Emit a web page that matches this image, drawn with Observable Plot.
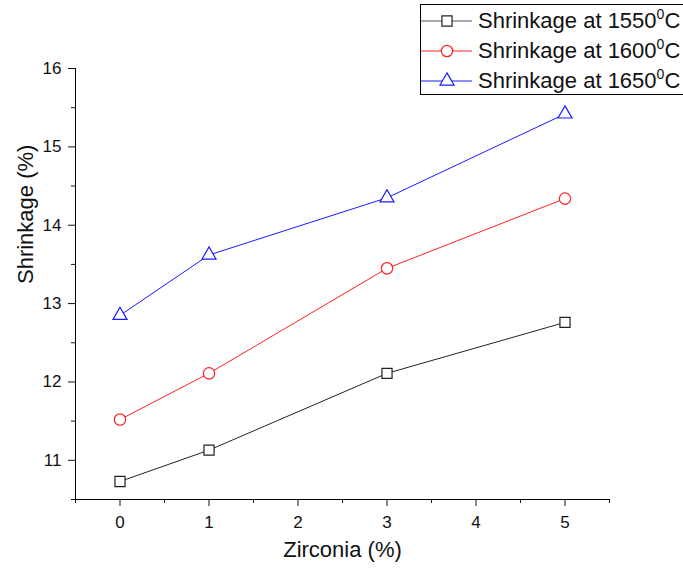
<!DOCTYPE html>
<html>
<head>
<meta charset="utf-8">
<script src="https://cdn.jsdelivr.net/npm/d3@7"></script>
<script src="https://cdn.jsdelivr.net/npm/@observablehq/plot@0.6"></script>
<style>
  html, body { margin: 0; padding: 0; background: #fff; overflow: hidden; }
  #wrap { position: relative; width: 683px; height: 571px; font-family: "Liberation Sans", Arial, sans-serif; }
  #legend { position: absolute; left: 420px; top: 4px; width: 300px; height: 91px; border: 1px solid #000; background: #fff; box-sizing: border-box; }
  .row { position: absolute; left: 0; height: 30px; display: flex; align-items: center; font-size: 22px; color: #111; white-space: nowrap; }
  .row svg { display: block; margin-right: 6px; }
  sup { font-size: 14px; vertical-align: 9px; line-height: 0; }
</style>
</head>
<body>
<div id="wrap"><div id="legend"></div></div>
<script>
const zirconia = [0, 1, 3, 5];
const s1550 = [10.73, 11.13, 12.11, 12.76];
const s1600 = [11.52, 12.11, 13.45, 14.34];
const s1650 = [12.85, 13.62, 14.35, 15.42];
const seriesNames = ["1550", "1600", "1650"];
const seriesColors = ["#222222", "#ff2020", "#1a1aff"];
const seriesSymbols = ["square", "circle", "triangle"];
const xMajor = [0, 1, 2, 3, 4, 5];
const xMinor = [-0.5, 0.5, 1.5, 2.5, 3.5, 4.5, 5.5];
const yMajor = [11, 12, 13, 14, 15, 16];
const yMinor = [10.5, 11.5, 12.5, 13.5, 14.5, 15.5];

const allValues = [s1550, s1600, s1650];
const data = [];
allValues.forEach((vals, i) => vals.forEach((v, j) => data.push({x: zirconia[j], y: v, s: seriesNames[i]})));

const marks = [
  Plot.ruleY([10.5], {stroke: "#000"}),
  Plot.ruleX([-0.5], {stroke: "#000"}),
  Plot.axisX({ticks: xMajor, tickSize: 7, tickPadding: 9, fontSize: 17, label: null, tickFormat: d => String(d)}),
  Plot.axisX({ticks: xMinor, tickSize: 4, text: null, label: null}),
  Plot.axisY({ticks: yMajor, tickSize: 7, tickPadding: 7, fontSize: 17, label: null, tickFormat: d => String(d)}),
  Plot.axisY({ticks: yMinor, tickSize: 4, text: null, label: null}),
  Plot.text(["Zirconia (%)"], {text: d => d, frameAnchor: "bottom", dy: 57, fontSize: 22, fill: "#111"}),
  Plot.text(["Shrinkage (%)"], {text: d => d, frameAnchor: "left", rotate: -90, dx: -50, fontSize: 22, fill: "#111"})
];
seriesNames.forEach((name, i) => {
  const d = data.filter(r => r.s === name);
  marks.push(Plot.line(d, {x: "x", y: "y", stroke: seriesColors[i], strokeWidth: 1}));
  marks.push(Plot.dot(d, {x: "x", y: "y", stroke: seriesColors[i], fill: "white", strokeWidth: 1.2,
    symbol: seriesSymbols[i], r: seriesSymbols[i] === "triangle" ? 5.2 : 5.7}));
});

const chart = Plot.plot({
  width: 683,
  height: 571,
  marginLeft: 75,
  marginRight: 74,
  marginTop: 68,
  marginBottom: 72,
  style: {fontFamily: "'Liberation Sans', Arial, sans-serif", fontSize: "17px", color: "#111", background: "white"},
  x: {domain: [-0.5, 5.5]},
  y: {domain: [10.5, 16]},
  marks
});
chart.style.position = "absolute";
chart.style.left = "0";
chart.style.top = "0";
const wrap = document.getElementById("wrap");
wrap.insertBefore(chart, wrap.firstChild);

// Legend
const legend = document.getElementById("legend");
seriesNames.forEach((name, i) => {
  const row = document.createElement("div");
  row.className = "row";
  row.style.top = (1 + i * 30) + "px";
  const sw = d3.create("svg").attr("width", 51).attr("height", 30);
  sw.append("line").attr("x1", 0).attr("x2", 51).attr("y1", 15).attr("y2", 15).attr("stroke", i === 0 ? "#555" : seriesColors[i]).attr("stroke-width", 1);
  const sym = {square: d3.symbolSquare, circle: d3.symbolCircle, triangle: d3.symbolTriangle}[seriesSymbols[i]];
  const rr = seriesSymbols[i] === "triangle" ? 5.2 : 5.7;
  sw.append("path").attr("d", d3.symbol(sym, Math.PI * rr * rr)()).attr("transform", "translate(26,15)")
    .attr("fill", "white").attr("stroke", seriesColors[i]).attr("stroke-width", 1.2);
  row.appendChild(sw.node());
  const t = document.createElement("span");
  t.innerHTML = "Shrinkage at " + name + "<sup>0</sup>C";
  row.appendChild(t);
  legend.appendChild(row);
});
</script>
</body>
</html>
